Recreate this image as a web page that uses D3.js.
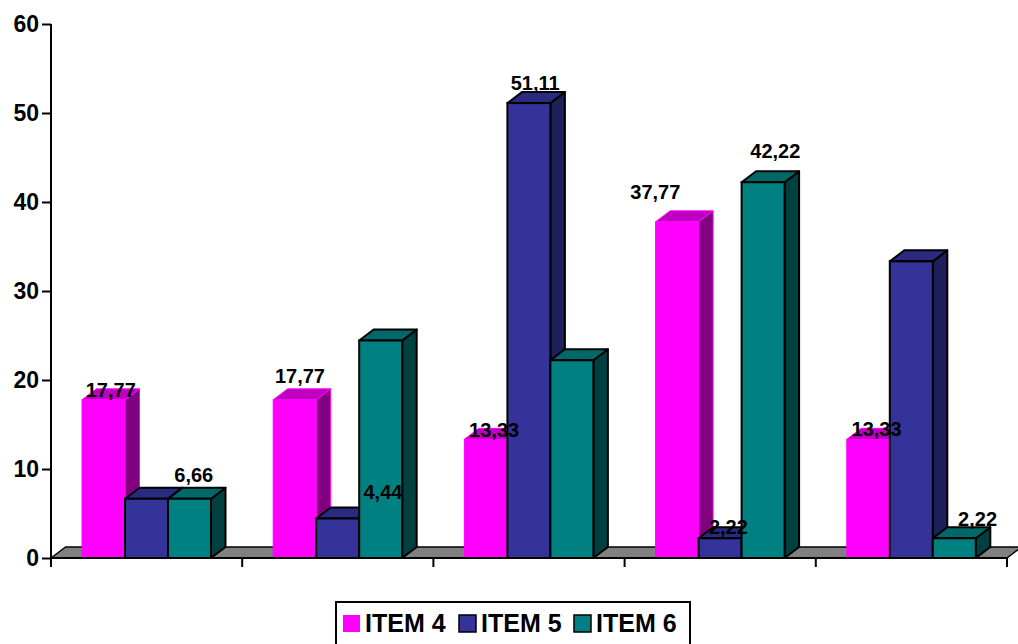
<!DOCTYPE html>
<html>
<head>
<meta charset="utf-8">
<script src="https://cdn.jsdelivr.net/npm/d3@7"></script>
<style>
  html, body { margin: 0; padding: 0; background: #fff; }
  svg { display: block; font-family: Arial, "Liberation Sans", sans-serif; }
</style>
</head>
<body>
<svg id="chart" width="1018" height="644"></svg>
<script>
// Data
const groups = ["G1", "G2", "G3", "G4", "G5"];
const seriesNames = ["ITEM 4", "ITEM 5", "ITEM 6"];
const item4 = [17.77, 17.77, 13.33, 37.77, 13.33];
const item5 = [6.66, 4.44, 51.11, 2.22, 33.33];
const item6 = [6.66, 24.44, 22.22, 42.22, 2.22];
const yTicks = [0, 10, 20, 30, 40, 50, 60];
// Which values carry a printed label: [seriesIndex, groupIndex]
const labelled = [[0,0],[2,0],[0,1],[1,1],[0,2],[1,2],[0,3],[2,3],[1,3],[0,4],[2,4]];

// Label nudges (px) relative to the bar's top centre
const labelNudge = {
  "0-0": [0, 8], "2-0": [-3, -6], "0-1": [-2, -6], "1-1": [38, -8],
  "0-2": [1, 9], "1-2": [-1, -2], "0-3": [-29, -12], "2-3": [5, -13],
  "1-3": [1, 7], "0-4": [1, 8], "2-4": [16, -1]
};

const seriesValues = [item4, item5, item6];
const palette = [
  { front: "#ff00ff", top: "#c000c0", side: "#800080", stroke: "#ff00ff" },
  { front: "#333399", top: "#2a2a80", side: "#1f1f5c", stroke: "#000" },
  { front: "#008080", top: "#006868", side: "#004040", stroke: "#000" }
];

const svg = d3.select("#chart");
const depthX = 14.5, depthY = 11;

const x0 = d3.scaleBand().domain(groups).range([51, 1007]).padding(0);
const x1 = d3.scaleBand().domain(seriesNames).range([31, 160]).padding(0);
const y = d3.scaleLinear().domain([0, 60]).range([558, 24]);

const commaFmt = d3.formatLocale({ decimal: ",", thousands: ".", grouping: [3], currency: ["", ""] }).format(".2f");

// Floor
const fx0 = x0.range()[0], fx1 = x0.range()[1], fy = y(0);
svg.append("path")
  .attr("d", `M${fx0},${fy} L${fx0 + depthX},${fy - depthY} L${fx1 + depthX},${fy - depthY} L${fx1},${fy} Z`)
  .attr("fill", "#808080").attr("stroke", "#000").attr("stroke-width", 1.5)
  .attr("stroke-linejoin", "round");

// Bars (drawn per group, series in order so later bars cover earlier sides)
const bars = svg.append("g");
groups.forEach((g, gi) => {
  seriesNames.forEach((s, si) => {
    const v = seriesValues[si][gi];
    const c = palette[si];
    const xl = x0(g) + x1(s), xr = xl + x1.bandwidth();
    const yt = y(v), yb = y(0);
    const sw = si === 0 ? 1 : 2;
    const bg = bars.append("g");
    // side
    bg.append("path")
      .attr("d", `M${xr},${yb} L${xr + depthX},${yb - depthY} L${xr + depthX},${yt - depthY} L${xr},${yt} Z`)
      .attr("fill", c.side).attr("stroke", c.stroke).attr("stroke-width", sw).attr("stroke-linejoin", "round");
    // top
    bg.append("path")
      .attr("d", `M${xl},${yt} L${xl + depthX},${yt - depthY} L${xr + depthX},${yt - depthY} L${xr},${yt} Z`)
      .attr("fill", c.top).attr("stroke", c.stroke).attr("stroke-width", sw).attr("stroke-linejoin", "round");
    // front
    bg.append("rect")
      .attr("x", xl).attr("y", yt).attr("width", xr - xl).attr("height", yb - yt)
      .attr("fill", c.front).attr("stroke", c.stroke).attr("stroke-width", sw);
  });
});

// Axes
const axisG = svg.append("g");
axisG.append("line").attr("x1", 51).attr("x2", 51).attr("y1", y(60)).attr("y2", y(0))
  .attr("stroke", "#000").attr("stroke-width", 2);
axisG.append("line").attr("x1", 51).attr("x2", 1007).attr("y1", y(0)).attr("y2", y(0))
  .attr("stroke", "#000").attr("stroke-width", 2);

const yAxis = svg.append("g").attr("transform", "translate(51,0)")
  .call(d3.axisLeft(y).tickValues(yTicks).tickSize(9).tickPadding(3).tickFormat(d3.format("d")));
yAxis.select(".domain").remove();
yAxis.selectAll(".tick line").attr("stroke", "#000").attr("stroke-width", 2);
yAxis.selectAll(".tick text").attr("font-size", 23).attr("font-weight", "bold")
  .attr("fill", "#000").attr("font-family", "Arial, 'Liberation Sans', sans-serif");

// Group boundary ticks on the category axis
const xEdges = groups.map(g => x0(g)).concat([x0.range()[1]]);
svg.append("g").selectAll("line").data(xEdges).join("line")
  .attr("x1", d => d).attr("x2", d => d).attr("y1", y(0)).attr("y2", y(0) + 9)
  .attr("stroke", "#000").attr("stroke-width", 2);

// Value labels
svg.append("g").selectAll("text").data(labelled).join("text")
  .attr("x", ([si, gi]) => x0(groups[gi]) + x1(seriesNames[si]) + x1.bandwidth() / 2 + depthX / 2 + labelNudge[si + "-" + gi][0])
  .attr("y", ([si, gi]) => y(seriesValues[si][gi]) - depthY + labelNudge[si + "-" + gi][1])
  .attr("text-anchor", "middle")
  .attr("font-size", 20).attr("font-weight", "bold").attr("fill", "#000")
  .text(([si, gi]) => commaFmt(seriesValues[si][gi]));

// Legend
const legend = svg.append("g");
legend.append("rect").attr("x", 336).attr("y", 602).attr("width", 354).attr("height", 60)
  .attr("fill", "#fff").attr("stroke", "#000").attr("stroke-width", 2);
const legendX = [343, 459, 574];
seriesNames.forEach((s, i) => {
  legend.append("rect").attr("x", legendX[i]).attr("y", 615).attr("width", 17).attr("height", 17)
    .attr("fill", palette[i].front)
    .attr("stroke", i === 0 ? "none" : "#000").attr("stroke-width", 1.5);
  legend.append("text").attr("x", legendX[i] + 22).attr("y", 632)
    .attr("font-size", 25).attr("font-weight", "bold").attr("fill", "#000").text(s);
});
</script>
</body>
</html>
